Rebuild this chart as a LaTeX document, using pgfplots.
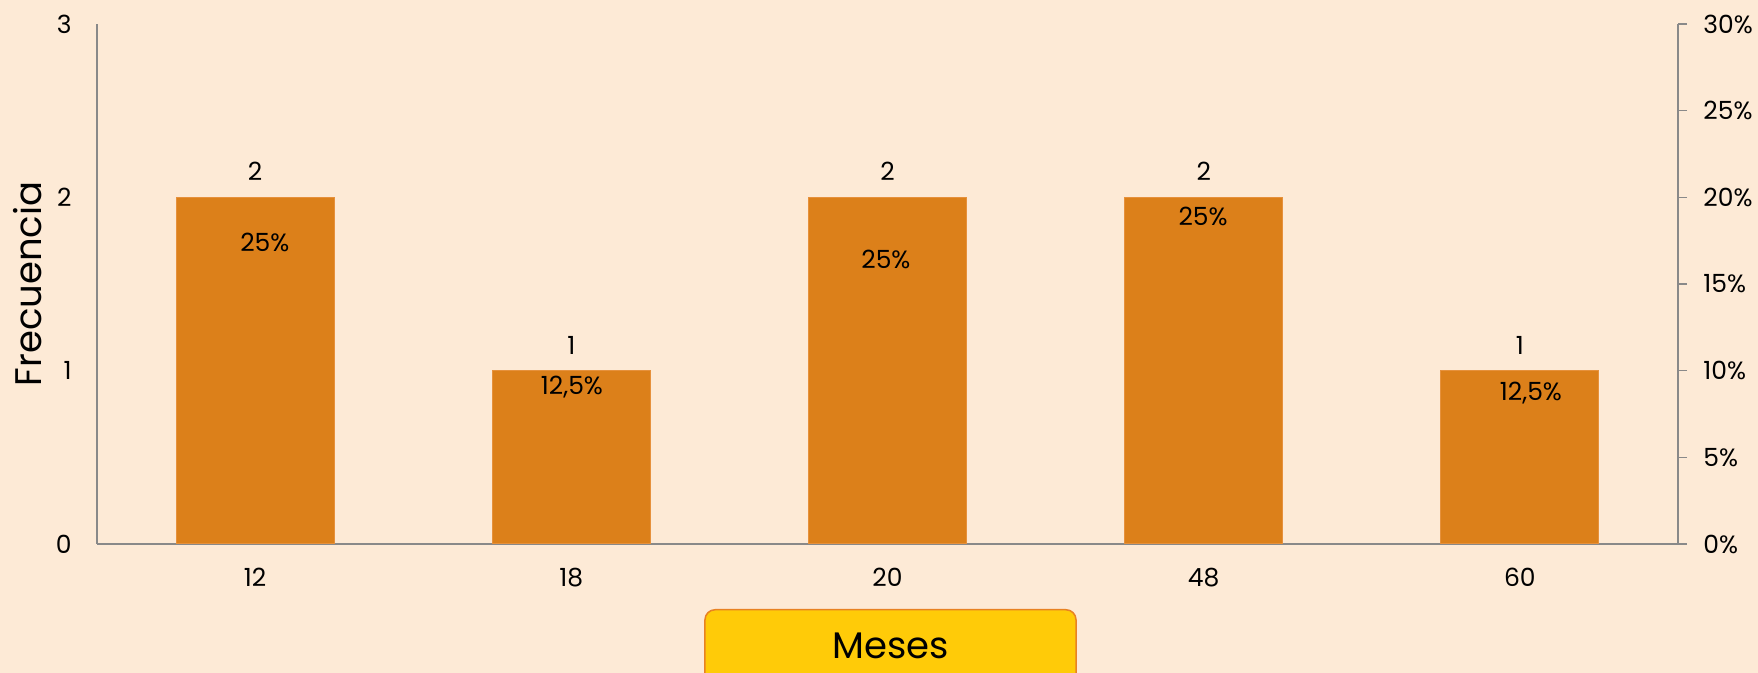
\documentclass[border=0pt]{standalone}
\usepackage{fontspec}
\setmainfont{Poppins}
\usepackage{pgfplots}
\pgfplotsset{compat=1.18}
\definecolor{bg}{RGB}{253,234,214}
\definecolor{barc}{RGB}{220,128,26}
\definecolor{baredge}{RGB}{230,145,60}
\definecolor{axgray}{RGB}{137,137,137}
\definecolor{boxfill}{RGB}{255,203,8}
\definecolor{boxedge}{RGB}{232,130,35}
\begin{document}
\begin{tikzpicture}
\fill[bg] (-48.5pt,-64.5pt) rectangle (830.5pt,272pt);
\useasboundingbox (-48.5pt,-64.5pt) rectangle (830.5pt,272pt);
\begin{axis}[
  scale only axis, width=790.5pt, height=260pt,
  xmin=-0.5, xmax=4.5, ymin=0, ymax=3,
  axis x line*=bottom, axis y line*=left,
  axis line style={axgray, line width=0.75pt},
  xtick={0,...,4}, xticklabels={12,18,20,48,60},
  ytick={0,1,2,3},
  major tick length=0pt,
  tick style={draw=none},
  /pgf/number format/assume math mode=true,
  ticklabel style={font=\fontsize{12.5}{15}\selectfont, text=black},
  xticklabel style={anchor=north, inner sep=0pt, yshift=-12pt},
  yticklabel style={anchor=east, inner sep=0pt, xshift=-12.5pt},
  ylabel={Frecuencia},
  ylabel style={at={([xshift=-27.5pt]axis description cs:0,0.5)}, anchor=base, font=\fontsize{18.5}{22}\selectfont},
  xlabel={Meses},
  xlabel style={at={([xshift=1.5pt,yshift=-32.5pt]axis description cs:0.5,0)}, anchor=north,
    fill=boxfill, draw=boxedge, line width=0.75pt, rounded corners=5pt, inner sep=0pt,
    minimum width=185.5pt, text height=24.5pt, text depth=16pt,
    font=\fontsize{18.5}{22}\selectfont},
  clip=false,
]
\addplot[ybar, bar width=0.5, fill=barc, draw=baredge, line width=0.5pt,
  nodes near coords,
  nodes near coords style={anchor=south, inner sep=0pt, yshift=8pt, font=\fontsize{12.5}{15}\selectfont, text=black}]
  coordinates {(0,2) (1,1) (2,2) (3,2) (4,1)};
\addplot[only marks, mark=*, mark size=0pt, mark options={draw=none, fill=none},
  nodes near coords, point meta=explicit symbolic,
  nodes near coords style={anchor=center, inner sep=0pt, font=\fontsize{12.5}{15}\selectfont, text=black}]
  coordinates {(0.031,1.737) [25\%] (1.002,0.906) [12,5\%] (1.995,1.644) [25\%] (2.998,1.892) [25\%] (4.035,0.871) [12,5\%]};
\end{axis}
\begin{axis}[
  scale only axis, width=790.5pt, height=260pt,
  xmin=-0.5, xmax=4.5, ymin=0, ymax=30,
  axis x line=none, axis y line*=right,
  axis line style={axgray, line width=0.75pt},
  ytick={0,5,...,30},
  yticklabel={\pgfmathprintnumber{\tick}\%},
  tick align=outside, major tick length=4.5pt,
  tick style={axgray, line width=0.75pt},
  /pgf/number format/assume math mode=true,
  ticklabel style={font=\fontsize{12.5}{15}\selectfont, text=black},
  yticklabel style={anchor=west, inner sep=0pt, xshift=8pt},
]
\end{axis}
\end{tikzpicture}
\end{document}
